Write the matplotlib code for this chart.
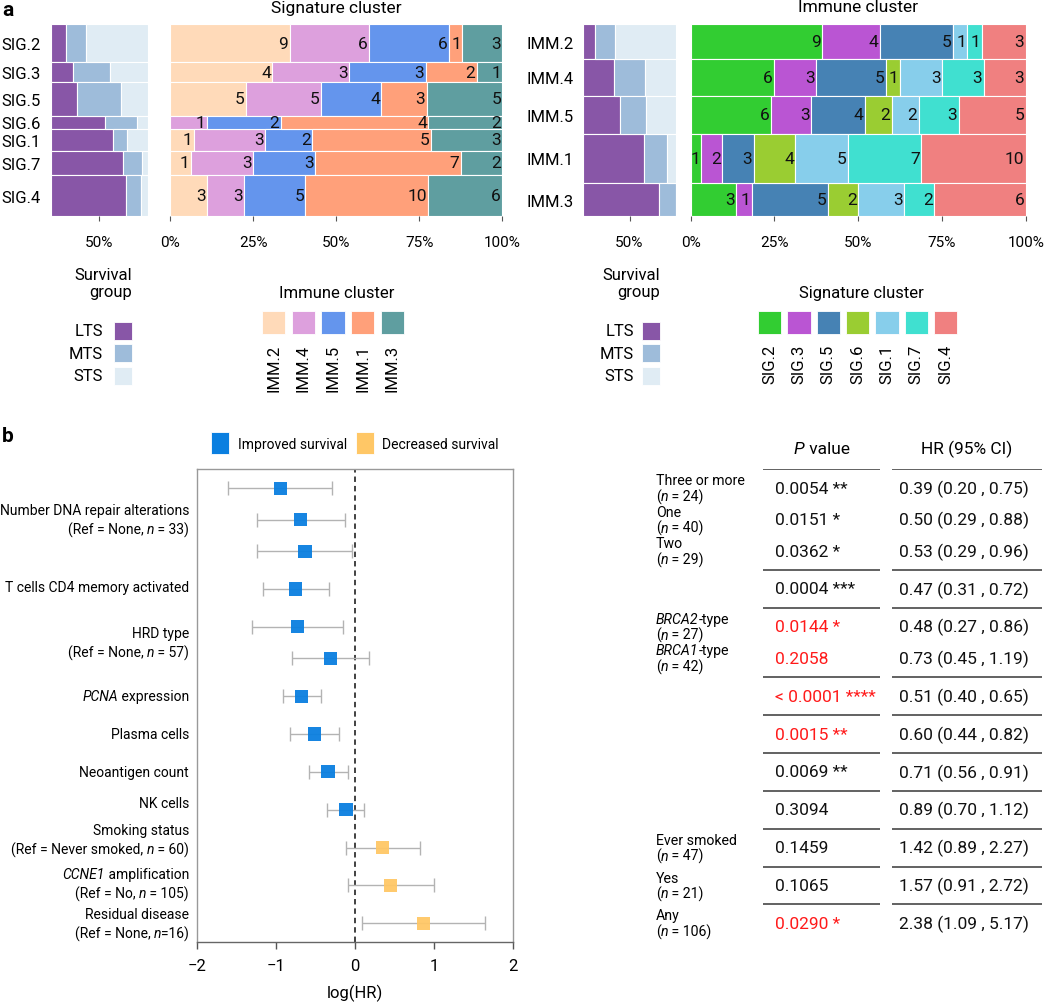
import numpy as np
import matplotlib
matplotlib.use('Agg')
import matplotlib.pyplot as plt
from matplotlib.patches import Rectangle
from matplotlib.transforms import blended_transform_factory

plt.rcParams['font.family'] = ['Roboto', 'DejaVu Sans']

W, H = 1050, 1003

# ---------------- panel a data ----------------
sig_clusters = ['SIG.2', 'SIG.3', 'SIG.5', 'SIG.6', 'SIG.1', 'SIG.7', 'SIG.4']
imm_clusters = ['IMM.2', 'IMM.4', 'IMM.5', 'IMM.1', 'IMM.3']
survival_groups = ['LTS', 'MTS', 'STS']

# patients per signature cluster (rows) x immune cluster (cols)
sig_imm_counts = np.array([
    [9, 6, 6, 1, 3],
    [4, 3, 3, 2, 1],
    [5, 5, 4, 3, 5],
    [0, 1, 2, 4, 2],
    [1, 3, 2, 5, 3],
    [1, 3, 3, 7, 2],
    [3, 3, 5, 10, 6],
])

# LTS, MTS, STS counts per cluster
sig_survival = np.array([
    [4, 5, 16],
    [3, 5, 5],
    [6, 10, 6],
    [5, 3, 1],
    [9, 2, 3],
    [12, 3, 1],
    [21, 4, 2],
])
imm_survival = np.array([
    [3, 5, 15],
    [8, 8, 8],
    [10, 7, 8],
    [21, 8, 3],
    [18, 4, 0],
])

surv_colors = ['#8856a7', '#9ebcda', '#e0ecf4']
imm_colors = ['#ffdab9', '#dda0dd', '#6495ed', '#ffa07a', '#5f9ea0']
sig_colors = ['#32cd32', '#ba55d3', '#4682b4', '#9acd32', '#87ceeb', '#40e0d0', '#f08080']

# ---------------- panel b data ----------------
# text between underscores is set in italics
group_labels = [
    ['Number DNA repair alterations', '(Ref = None, _n_ = 33)'],
    ['T cells CD4 memory activated'],
    ['HRD type', '(Ref = None, _n_ = 57)'],
    ['_PCNA_ expression'],
    ['Plasma cells'],
    ['Neoantigen count'],
    ['NK cells'],
    ['Smoking status', '(Ref = Never smoked, _n_ = 60)'],
    ['_CCNE1_ amplification', '(Ref = No, _n_ = 105)'],
    ['Residual disease', '(Ref = None, _n_=16)'],
]
group_sizes = [3, 1, 2, 1, 1, 1, 1, 1, 1, 1]
# small vertical nudges of the left labels (pixels, up is negative)
label_nudge = [0, -1.5, 0, 0, 0, 0, -6.5, -8, -2, 0]

row_sublabels = [['Three or more', '(_n_ = 24)'], ['One', '(_n_ = 40)'], ['Two', '(_n_ = 29)'], [],
                 ['_BRCA2_-type', '(_n_ = 27)'], ['_BRCA1_-type', '(_n_ = 42)'],
                 [], [], [], [], ['Ever smoked', '(_n_ = 47)'], ['Yes', '(_n_ = 21)'],
                 ['Any', '(_n_ = 106)']]
row_hr = [0.39, 0.50, 0.53, 0.47, 0.48, 0.73, 0.51, 0.60, 0.71, 0.89, 1.42, 1.57, 2.38]
row_lo = [0.20, 0.29, 0.29, 0.31, 0.27, 0.45, 0.40, 0.44, 0.56, 0.70, 0.89, 0.91, 1.09]
row_hi = [0.75, 0.88, 0.96, 0.72, 0.86, 1.19, 0.65, 0.82, 0.91, 1.12, 2.27, 2.72, 5.17]
row_p = ['0.0054 **', '0.0151 *', '0.0362 *', '0.0004 ***', '0.0144 *', '0.2058', '< 0.0001 ****',
         '0.0015 **', '0.0069 **', '0.3094', '0.1459', '0.1065', '0.0290 *']
row_p_red = [False, False, False, False, True, True, True, True, False, False, False, False, True]

improved_color = '#0a7fe0'
decreased_color = '#ffc766'

fig = plt.figure(figsize=(W / 100, H / 100), dpi=100)


def px_axes(x0, y0, x1, y1):
    return fig.add_axes([x0 / W, 1 - y1 / H, (x1 - x0) / W, (y1 - y0) / H])


def fig_rect(x0, y0, w, h, color):
    fig.patches.append(Rectangle((x0 / W, 1 - (y0 + h) / H), w / W, h / H, transform=fig.transFigure,
                                 facecolor=color, edgecolor='white', linewidth=0.6))


def fig_text(x, y, s, **kw):
    fig.text(x / W, 1 - y / H, s, **kw)


def rich_text(ax, x, y, s, ha='left', transform=None, **kw):
    # chain of text pieces, odd pieces (between underscores) in italics
    parts = [(p, i % 2 == 1) for i, p in enumerate(s.split('_')) if p]
    if ha == 'right':
        parts = parts[::-1]
    t = ax.text(x, y, parts[0][0], ha=ha, va='center', style='italic' if parts[0][1] else 'normal',
                transform=transform if transform is not None else ax.transData, **kw)
    for p, it in parts[1:]:
        if ha == 'right':
            t = ax.annotate(p, xy=(0, 0.5), xycoords=t, ha='right', va='center',
                            style='italic' if it else 'normal', **kw)
        else:
            t = ax.annotate(p, xy=(1, 0.5), xycoords=t, ha='left', va='center',
                            style='italic' if it else 'normal', **kw)


def style_axis(ax):
    for sp in ax.spines.values():
        sp.set_visible(False)
    ax.tick_params(axis='x', length=3.5, width=0.8, color='#555555', pad=10, labelsize=11)
    ax.tick_params(axis='y', length=0, pad=7, labelsize=12)
    ax.set_xlim(0, 1)


def mosaic(ax_surv, ax_main, counts, surv, row_labels, colors):
    sizes = counts.sum(axis=1)
    tops = np.concatenate([[0], np.cumsum(sizes)[:-1]])
    centers = tops + sizes / 2
    total = sizes.sum()

    props = surv / surv.sum(axis=1, keepdims=True)
    left = np.zeros(len(sizes))
    for j in range(props.shape[1]):
        ax_surv.barh(centers, props[:, j], height=sizes, left=left, color=surv_colors[j],
                     edgecolor='white', linewidth=0.8)
        left += props[:, j]
    ax_surv.set_yticks(centers)
    ax_surv.set_yticklabels(row_labels)
    ax_surv.set_xticks([0.5])
    ax_surv.set_xticklabels(['50%'])

    props = counts / sizes[:, None]
    left = np.zeros(len(sizes))
    for j in range(props.shape[1]):
        ax_main.barh(centers, props[:, j], height=sizes, left=left, color=colors[j],
                     edgecolor='white', linewidth=0.8)
        for i in range(len(sizes)):
            if counts[i, j] > 0:
                ax_main.text(left[i] + props[i, j] - 0.004, centers[i], str(counts[i, j]),
                             ha='right', va='center', fontsize=12.5, color='#111111')
        left += props[:, j]
    ax_main.set_yticks([])
    ax_main.set_xticks([0, 0.25, 0.5, 0.75, 1])
    ax_main.set_xticklabels(['0%', '25%', '50%', '75%', '100%'])

    for ax in (ax_surv, ax_main):
        style_axis(ax)
        ax.set_ylim(total, 0)


# ---------------- panel a ----------------
ax_s1 = px_axes(50.7, 25, 147.7, 217.3)
ax_m1 = px_axes(170, 25, 502.3, 217.3)
mosaic(ax_s1, ax_m1, sig_imm_counts, sig_survival, sig_clusters, imm_colors)
ax_m1.set_title('Signature cluster', fontsize=12.5, pad=9)

ax_s2 = px_axes(583.3, 25, 675.7, 217.3)
ax_m2 = px_axes(690.7, 25, 1025.7, 217.3)
mosaic(ax_s2, ax_m2, sig_imm_counts.T, imm_survival, imm_clusters, sig_colors)
ax_m2.set_title('Immune cluster', fontsize=12.5, pad=9)

fig_text(2, 10, 'a', fontsize=15, fontweight='bold', va='center', ha='left')

# legends of panel a
for x_right, x_lab in [(132, 103), (660, 634)]:
    fig_text(x_right, 284, 'Survival\ngroup', ha='right', va='center', fontsize=12, linespacing=1.2)
    for k, g in enumerate(survival_groups):
        y0 = 323 + k * 22.4
        fig_rect(x_right - 18, y0, 18, 18, surv_colors[k])
        fig_text(x_lab, y0 + 9, g, ha='right', va='center', fontsize=12)

fig_text(337, 294, 'Immune cluster', ha='center', va='center', fontsize=12)
for k, name in enumerate(imm_clusters):
    x0 = 262 + k * 29.7
    fig_rect(x0, 312, 23.3, 23, imm_colors[k])
    fig_text(x0 + 11.7, 345, name, ha='center', va='top', rotation=90, fontsize=12)

fig_text(861, 294, 'Signature cluster', ha='center', va='center', fontsize=12)
for k, name in enumerate(sig_clusters):
    x0 = 758 + k * 29.3
    fig_rect(x0, 312, 23.3, 23, sig_colors[k])
    fig_text(x0 + 11.7, 345, name, ha='center', va='top', rotation=90, fontsize=12)

# ---------------- panel b ----------------
unit_px = 38.0   # pixels per row unit in the forest axes
sub_step = 0.83
row_y = []
group_tops = []
group_mid = []
top = 0.0
for k in group_sizes:
    group_tops.append(top)
    ys = [top + 0.5 + j * sub_step for j in range(k)]
    row_y.extend(ys)
    group_mid.append(np.mean(ys))
    top += 1 + (k - 1) * sub_step
total_h = top
row_y = np.array(row_y)

log_hr = np.log(row_hr)
log_lo = np.log(row_lo)
log_hi = np.log(row_hi)

ax_f = px_axes(197, 470.3, 513.3, 943.3)
ax_f.errorbar(log_hr, row_y, xerr=[log_hr - log_lo, log_hi - log_hr], fmt='none',
              ecolor='#b3b3b3', elinewidth=1.0, capsize=5, capthick=1.0, zorder=2)
cols = [improved_color if h < 1 else decreased_color for h in row_hr]
ax_f.scatter(log_hr, row_y, marker='s', s=90, c=cols, edgecolors='none', alpha=0.95, zorder=3)
ax_f.axvline(0, color='#333333', linestyle=(0, (3, 2.2)), linewidth=1.3, zorder=1)
ax_f.set_xlim(-2, 2)
ax_f.set_ylim(total_h, 0)
ax_f.set_yticks([])
ax_f.set_xticks([-2, -1, 0, 1, 2])
ax_f.tick_params(axis='x', length=5, width=1, color='#555555', labelsize=12, pad=6)
for name, sp in ax_f.spines.items():
    sp.set_color('#999999')
    sp.set_linewidth(1.0)
ax_f.spines['bottom'].set_color('#666666')
ax_f.set_xlabel('log(HR)', fontsize=12, labelpad=8)

trans = blended_transform_factory(ax_f.transAxes, ax_f.transData)
half_gap = 9.7 / unit_px
for lines, ym, nudge in zip(group_labels, group_mid, label_nudge):
    yc = ym + nudge / unit_px
    if len(lines) == 1:
        offs = [0]
    else:
        offs = [-half_gap, half_gap]
    for ln, o in zip(lines, offs):
        rich_text(ax_f, -0.025, yc + o, ln, ha='right', transform=trans, fontsize=10)

fig_text(2, 437, 'b', fontsize=15, fontweight='bold', va='center', ha='left')

# legend of panel b
fig_rect(211, 433, 18, 22, improved_color)
fig_text(238, 445, 'Improved survival', ha='left', va='center', fontsize=10)
fig_rect(356, 433, 18, 22, decreased_color)
fig_text(382, 445, 'Decreased survival', ha='left', va='center', fontsize=10)

# table
ax_t = px_axes(650, 470.3, 1050, 943.3)
ax_t.set_xlim(650, 1050)
ax_t.set_ylim(total_h, 0)
ax_t.axis('off')
ax_t.hlines(group_tops, 762.7, 880, color='#555555', linewidth=1.3)
ax_t.hlines(group_tops, 892.3, 1042.3, color='#555555', linewidth=1.3)
rich_text(ax_t, 794, -0.56, '_P_ value', fontsize=12.5, clip_on=False)
ax_t.text(966.7, -0.56, 'HR (95% CI)', ha='center', va='center', fontsize=12.5, clip_on=False)
sub_gap = 8.0 / unit_px
for i, y in enumerate(row_y):
    if row_sublabels[i]:
        rich_text(ax_t, 656, y - sub_gap, row_sublabels[i][0], fontsize=10.2)
        rich_text(ax_t, 656, y + sub_gap, row_sublabels[i][1], fontsize=10.2)
    ax_t.text(775, y, row_p[i], ha='left', va='center', fontsize=12.5,
              color='#ff1a1a' if row_p_red[i] else '#111111')
    ax_t.text(899.3, y, f'{row_hr[i]:.2f} ({row_lo[i]:.2f} , {row_hi[i]:.2f})', ha='left', va='center',
              fontsize=12.5, color='#111111')

fig.savefig('out.png', dpi=100)
